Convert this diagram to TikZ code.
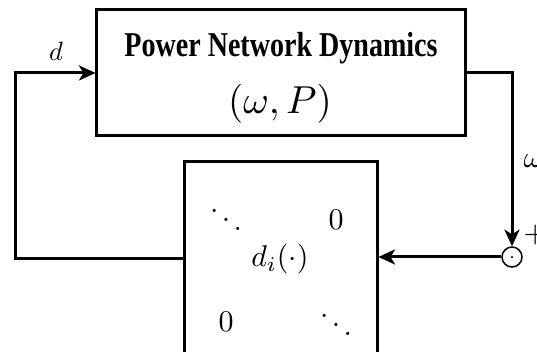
\documentclass[tikz,border=0pt]{standalone}
\usepackage{fontspec}
\usepackage{graphicx}
\newfontfamily\titlefont{Liberation Serif}
\usetikzlibrary{arrows.meta}
\begin{document}
\begin{tikzpicture}[x=0.33333pt,y=-0.33333pt,
  blk/.style={draw, line width=1pt, inner sep=0pt},
  lbl/.style={inner sep=0pt},
  conn/.style={line width=1pt},
  arr/.style={line width=1pt, -{Stealth[length=5.5pt,width=5pt,inset=1.5pt]}}]
\useasboundingbox (0,0) rectangle (537,352);
\clip (0,0) rectangle (537,352);
% blocks
\node[blk, minimum width=122.67pt, minimum height=42pt] (top) at (281,73) {};
\node[blk, minimum width=64pt, minimum height=79.33pt] (diag) at (281,281) {};
\node[draw, circle, line width=0.5pt, inner sep=0pt, minimum size=6.67pt] (sum) at (512,257) {};
\fill (sum.center) circle (0.4pt);
% texts in top block
\node[lbl, anchor=base] (ttl) at (281,57) {\scalebox{0.806}[1]{\titlefont\bfseries\fontsize{11.6}{13}\selectfont Power Network Dynamics}};
\node[lbl, anchor=base] (wp) at (280,114) {\scalebox{1.3}{$(\omega,P)$}};
% texts in diagonal block
\node[lbl] (dd1) at (226,211) {$\ddots$};
\node[lbl] (z1) at (336,220) {$0$};
\node[lbl, anchor=base] (di) at (280,267) {$d_i(\cdot)$};
\node[lbl] (z2) at (226,322) {$0$};
\node[lbl] (dd2) at (336,316) {$\ddots$};
% labels
\node[lbl, anchor=base] (dlab) at (56,61) {\scalebox{0.88}{$d$}};
\node[lbl, anchor=base west] (wlab) at (523,168) {$\omega$};
\node[lbl, anchor=base west] (plab) at (523,242.5) {$+$};
% connectors
\coordinate (fb) at (15,259);
\draw[arr] (top.east) -| (sum.north);
\draw[arr] (sum.west) -- (sum.west -| diag.east);
\draw[arr] (fb -| diag.west) -- (fb) |- (top.west);
\end{tikzpicture}
\end{document}
